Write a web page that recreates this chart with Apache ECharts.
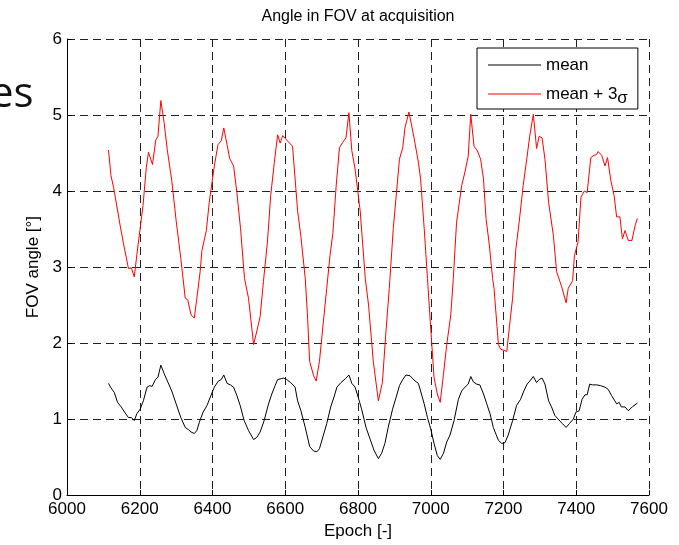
<!DOCTYPE html>
<html>
<head>
<meta charset="utf-8">
<script src="https://cdn.jsdelivr.net/npm/echarts@6/dist/echarts.min.js"></script>
<style>html,body{margin:0;padding:0;background:#fff;}#c{width:679px;height:545px;}</style>
</head>
<body>
<div id="c"></div>
<script>
const titleText = 'Angle in FOV at acquisition';
const xName = 'Epoch [-]';
const yName = 'FOV angle [°]';
const xTicks = { min: 6000, max: 7600, interval: 200 };
const yTicks = { min: 0, max: 6, interval: 1 };
const seriesNames = ['mean', 'mean + 3σ'];

const meanEpoch = [6114,6121,6130,6139,6149,6160,6169,6177,6185,6192,6201,6210,6220,6227,6234,6243,6250,6258,6267,6276,6288,6300,6313,6325,6334,6341,6350,6357,6364,6374,6385,6394,6405,6416,6424,6431,6440,6449,6458,6467,6476,6487,6499,6513,6522,6531,6542,6554,6563,6572,6579,6588,6595,6604,6615,6627,6634,6643,6655,6667,6678,6687,6694,6705,6714,6725,6734,6742,6753,6765,6775,6783,6792,6801,6810,6822,6833,6844,6856,6865,6874,6883,6895,6905,6914,6923,6932,6943,6957,6966,6972,6982,6991,7000,7009,7018,7026,7035,7044,7053,7064,7076,7085,7094,7103,7110,7117,7126,7135,7145,7154,7163,7172,7186,7195,7204,7213,7225,7236,7247,7256,7265,7272,7282,7291,7298,7306,7314,7324,7332,7341,7350,7362,7372,7381,7392,7399,7408,7416,7424,7430,7437,7445,7456,7467,7479,7488,7497,7506,7511,7518,7524,7534,7543,7554,7568];
const meanValue = [1.47,1.41,1.35,1.22,1.16,1.08,1.02,1.02,0.98,1.07,1.13,1.24,1.42,1.44,1.43,1.52,1.55,1.71,1.60,1.50,1.37,1.20,1.02,0.89,0.86,0.83,0.81,0.85,0.96,1.09,1.18,1.29,1.42,1.50,1.52,1.58,1.47,1.45,1.42,1.31,1.18,0.98,0.85,0.73,0.76,0.83,0.98,1.20,1.33,1.44,1.52,1.53,1.54,1.52,1.48,1.42,1.24,1.11,0.89,0.64,0.58,0.57,0.61,0.79,0.94,1.16,1.29,1.42,1.48,1.53,1.58,1.47,1.42,1.28,1.13,0.89,0.74,0.59,0.48,0.55,0.68,0.89,1.13,1.29,1.44,1.52,1.58,1.57,1.50,1.47,1.37,1.20,1.02,0.87,0.68,0.52,0.47,0.55,0.70,0.79,0.98,1.26,1.37,1.42,1.46,1.56,1.49,1.46,1.45,1.33,1.20,1.07,0.89,0.72,0.68,0.69,0.79,0.98,1.18,1.26,1.37,1.46,1.50,1.56,1.48,1.52,1.54,1.46,1.24,1.16,1.05,1.00,0.94,0.89,0.94,1.00,1.09,1.11,1.26,1.32,1.32,1.46,1.45,1.45,1.44,1.42,1.39,1.31,1.24,1.20,1.22,1.16,1.16,1.11,1.16,1.21];

const sigmaEpoch = [6114,6121,6128,6146,6156,6169,6177,6185,6192,6209,6218,6224,6235,6244,6250,6258,6267,6276,6288,6300,6313,6325,6332,6341,6350,6357,6366,6371,6383,6391,6405,6415,6424,6431,6440,6447,6458,6467,6477,6488,6499,6513,6522,6531,6540,6551,6560,6570,6579,6586,6593,6604,6620,6634,6643,6655,6661,6667,6678,6685,6694,6705,6714,6723,6731,6740,6749,6758,6767,6775,6783,6792,6806,6820,6829,6842,6856,6867,6877,6886,6897,6914,6923,6929,6940,6954,6966,6972,6982,6991,6998,7009,7018,7026,7035,7044,7055,7062,7071,7085,7094,7103,7110,7119,7128,7137,7145,7152,7161,7170,7174,7186,7192,7209,7216,7225,7234,7243,7254,7265,7272,7282,7291,7298,7306,7314,7324,7337,7346,7360,7372,7378,7390,7395,7405,7413,7422,7430,7440,7449,7456,7460,7470,7479,7486,7495,7504,7511,7520,7527,7534,7543,7553,7562,7568];
const sigmaValue = [4.54,4.20,4.05,3.55,3.29,2.98,2.99,2.87,3.16,3.81,4.31,4.51,4.35,4.67,4.72,5.19,4.90,4.53,4.14,3.61,3.11,2.59,2.57,2.37,2.33,2.59,2.94,3.22,3.48,3.85,4.33,4.61,4.66,4.83,4.61,4.43,4.33,3.98,3.51,2.85,2.59,1.98,2.16,2.35,2.81,3.33,3.94,4.38,4.74,4.63,4.73,4.67,4.59,3.74,3.40,2.85,2.37,1.76,1.57,1.50,1.76,2.29,2.72,3.15,3.45,4.07,4.57,4.64,4.70,5.03,4.53,4.29,3.74,2.85,2.50,1.76,1.24,1.48,2.16,2.72,3.51,4.42,4.57,4.83,5.04,4.70,4.38,4.16,3.51,2.85,2.33,1.55,1.33,1.22,1.59,1.98,2.37,2.85,3.59,4.07,4.25,4.46,5.01,4.59,4.53,4.42,4.16,3.64,3.29,2.85,2.72,1.98,1.92,1.89,2.20,2.59,3.24,3.59,4.07,4.46,4.72,5.01,4.56,4.72,4.70,4.42,3.85,3.42,2.94,2.74,2.53,2.72,2.82,3.15,3.33,3.92,4.00,3.98,4.44,4.47,4.48,4.52,4.47,4.33,4.44,4.14,3.94,3.66,3.66,3.37,3.48,3.35,3.35,3.55,3.64];

const FONT = 'Liberation Sans, Arial, Helvetica, sans-serif';
const pair = (xs, ys) => xs.map((x, i) => [x, ys[i]]);
const seriesColors = ['#000000', '#ff0000'];

const chart = echarts.init(document.getElementById('c'), null, { renderer: 'canvas' });
const dash = { color: '#222', type: [8, 5], width: 1 };
chart.setOption({
  animation: false,
  backgroundColor: '#fff',
  textStyle: { fontFamily: FONT },
  title: {
    text: titleText, left: 358, top: 9, textAlign: 'center', padding: 0,
    textStyle: { fontFamily: FONT, fontSize: 16, fontWeight: 'normal', color: '#000' }
  },
  graphic: [{
    type: 'text', left: -10, top: 74, silent: true,
    style: { text: 'es', font: '42px "Open Sans", sans-serif', fill: '#111' }
  }],
  grid: { left: 67, right: 30, top: 39, bottom: 47, containLabel: false },
  legend: {
    orient: 'vertical', left: 477, top: 48,
    padding: [8, 10, 2, 11], itemGap: 10, itemWidth: 53, itemHeight: 1,
    borderColor: '#000', borderWidth: 1, backgroundColor: '#fff',
    selectedMode: false,
    formatter: n => n === 'mean + 3σ' ? '{a|mean + 3}{s|σ}' : '{a|' + n + '}',
    textStyle: {
      fontFamily: FONT, fontSize: 17, color: '#000',
      rich: {
        a: { fontFamily: FONT, fontSize: 17, color: '#000', lineHeight: 18, padding: [1, 0, 1, 0], verticalAlign: 'top' },
        s: { fontFamily: FONT, fontSize: 17, color: '#000', lineHeight: 18, padding: [5, 0, 0, 0], verticalAlign: 'top' }
      }
    },
    data: seriesNames.map((n, i) => ({ name: n, icon: 'rect', itemStyle: { color: seriesColors[i] } }))
  },
  xAxis: {
    type: 'value', min: xTicks.min, max: xTicks.max, interval: xTicks.interval,
    name: xName, nameLocation: 'middle', nameGap: 20,
    nameTextStyle: { fontFamily: FONT, fontSize: 17, color: '#000' },
    axisLine: { show: true, onZero: false, lineStyle: { color: '#000', width: 1 } },
    axisTick: { show: true, inside: true, length: 5, lineStyle: { color: '#000' } },
    axisLabel: { fontFamily: FONT, fontSize: 17, color: '#000', margin: 6, formatter: v => String(v) },
    splitLine: { show: true, showMinLine: false, lineStyle: dash }
  },
  yAxis: {
    type: 'value', min: yTicks.min, max: yTicks.max, interval: yTicks.interval,
    name: yName, nameLocation: 'middle', nameGap: 24, nameRotate: 90,
    nameTextStyle: { fontFamily: FONT, fontSize: 17, color: '#000' },
    axisLine: { show: true, onZero: false, lineStyle: { color: '#000', width: 1 } },
    axisTick: { show: true, inside: true, length: 5, lineStyle: { color: '#000' } },
    axisLabel: { fontFamily: FONT, fontSize: 17, color: '#000', margin: 5, formatter: v => String(v) },
    splitLine: { show: true, showMinLine: false, lineStyle: dash }
  },
  series: [
    { name: seriesNames[0], type: 'line', data: pair(meanEpoch, meanValue), symbol: 'none', showSymbol: false,
      lineStyle: { color: seriesColors[0], width: 1 }, itemStyle: { color: seriesColors[0] }, z: 3 },
    { name: seriesNames[1], type: 'line', data: pair(sigmaEpoch, sigmaValue), symbol: 'none', showSymbol: false,
      lineStyle: { color: seriesColors[1], width: 1 }, itemStyle: { color: seriesColors[1] }, z: 3 }
  ]
});
</script>
</body>
</html>
